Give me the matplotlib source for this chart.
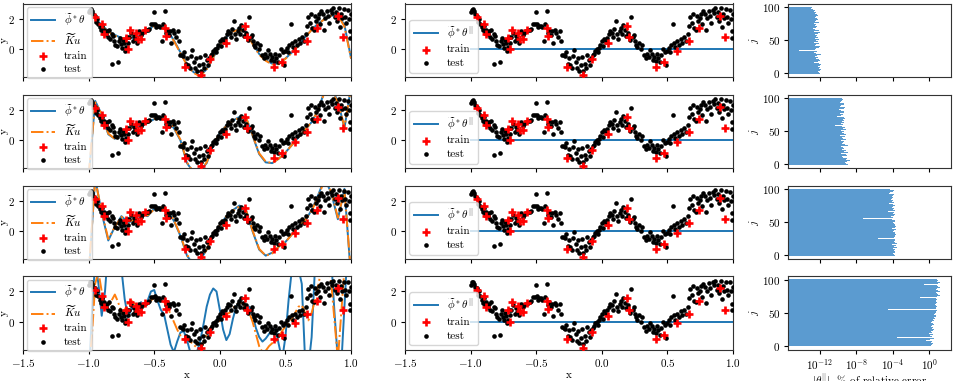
import numpy as np
import matplotlib
matplotlib.use("Agg")
import matplotlib.pyplot as plt
from matplotlib.ticker import NullLocator, FixedLocator

plt.rcParams['font.family'] = ['cmr10', 'DejaVu Serif']
plt.rcParams['mathtext.fontset'] = 'cm'
plt.rcParams['axes.formatter.use_mathtext'] = True
plt.rcParams['font.size'] = 8
plt.rcParams['axes.unicode_minus'] = True

# ---- data ----
train_x = [-0.954, -0.898, -0.883, -0.712, -0.70, -0.687, -0.636, -0.623, -0.600, -0.573,
           -0.420, -0.407, -0.267, -0.140, -0.076, 0.046, 0.191, 0.211, 0.415, 0.471,
           0.573, 0.662, 0.738, 0.903, 0.942]
train_y = [2.1, 1.7, 1.0, 0.75, 0.0, 1.3, 1.05, 0.7, 0.65, 1.25,
           1.4, 0.85, -1.15, -1.7, -0.65, 0.4, 1.55, 0.8, -1.15, -0.85,
           -0.1, 0.55, 1.4, 2.2, 0.8]

test_x = [-0.995, -0.99, -0.98, -0.975, -0.965, -0.955, -0.94, -0.935, -0.93, -0.915,
          -0.905, -0.9, -0.89, -0.88, -0.87, -0.86, -0.85, -0.845, -0.835, -0.825,
          -0.815, -0.82, -0.775,
          -0.81, -0.795, -0.78, -0.77, -0.76, -0.755, -0.745, -0.735, -0.73, -0.72,
          -0.715, -0.705, -0.70,
          -0.69, -0.675, -0.665, -0.655, -0.645, -0.63, -0.615, -0.60, -0.59, -0.575,
          -0.56, -0.55,
          -0.54, -0.525, -0.51, -0.50, -0.495, -0.485, -0.475, -0.465, -0.455, -0.44,
          -0.43, -0.42, -0.41, -0.40, -0.39, -0.38, -0.37, -0.36, -0.35, -0.335,
          -0.32, -0.31,
          -0.30, -0.29, -0.28, -0.27, -0.26, -0.25, -0.24, -0.23, -0.22, -0.21,
          -0.20, -0.19, -0.18, -0.17, -0.16, -0.15, -0.14, -0.13, -0.12, -0.11,
          -0.10, -0.09, -0.08, -0.07, -0.06, -0.05, -0.04, -0.03, -0.02, -0.01,
          0.0, 0.01, 0.02, 0.03, 0.04,
          0.055, 0.065, 0.075, 0.085, 0.095, 0.105, 0.115, 0.125, 0.135, 0.145,
          0.155, 0.165, 0.175, 0.185, 0.20, 0.215, 0.225, 0.235, 0.245, 0.25,
          0.26, 0.27, 0.285, 0.295, 0.31, 0.32, 0.335, 0.345, 0.36, 0.37,
          0.38, 0.39, 0.40, 0.41, 0.42, 0.43, 0.44, 0.455, 0.465, 0.48,
          0.49, 0.50,
          0.51, 0.52, 0.53, 0.54, 0.55, 0.56, 0.575, 0.585, 0.60, 0.61,
          0.625, 0.64, 0.655,
          0.665, 0.675, 0.685, 0.695, 0.705, 0.715, 0.725, 0.735, 0.745, 0.755,
          0.765, 0.775, 0.785, 0.795, 0.805, 0.815, 0.825, 0.835, 0.845, 0.855,
          0.865, 0.875, 0.885, 0.895, 0.905, 0.915, 0.925, 0.935, 0.945, 0.955,
          0.965, 0.975, 0.985, 0.99, 0.995, 0.998]
test_y = [2.45, 2.6, 2.65, 2.5, 2.3, 2.2, 1.8, 2.0, 1.7, 1.45,
          1.25, 1.55, 1.1, 1.3, 1.0, 1.2, 0.8, 1.3, 0.7, 1.0,
          0.9, -0.95, -0.85,
          0.55, 0.3, 0.2, 0.55, 0.75, 0.35, 0.1, 0.6, 0.4, -0.1,
          0.15, 0.8, 0.45,
          0.8, 1.1, 0.55, 0.9, 0.65, 0.45, 1.2, 0.95, 1.1, 1.2,
          1.25, 1.3,
          1.35, 1.65, 1.65, 2.45, 1.7, 1.45, 1.55, 1.55, 1.45, 0.55,
          1.65, 2.5, 1.1, 1.3, 0.95, 1.2, 0.4, 1.25, 1.1, 0.8,
          1.2, 0.55,
          -0.35, -0.4, -0.45, -0.2, -0.95, -0.55, -1.0, -1.2, -0.45, -0.05,
          -0.8, -1.25, -0.6, -1.4, -1.05, -0.5, -1.45, -0.95, -1.25, -0.35,
          -0.7, -1.0, -0.55, -0.4, -0.3, -0.1, 0.0, -0.2, 0.1, 0.3,
          0.55, 0.2, 0.7, 0.5, 0.75,
          1.0, 1.2, 1.1, 0.8, 1.35, 1.85, 1.0, 0.7, 1.2, 1.4,
          1.0, 1.6, 1.25, 0.9, 1.1, 0.6, 2.15, 0.8, 0.95, 0.55,
          0.3, 0.15, 0.45, 0.0, 0.3, -0.35, -0.6, -0.3, -0.5, -0.05,
          -0.3, -0.7, -0.5, -0.75, -0.3, -0.55, -0.85, -0.4, 0.0, -0.2,
          -1.05, -0.1,
          0.1, -0.2, 0.3, 1.7, 0.45, 0.15, 0.55, 0.3, 0.7, 0.45,
          0.8, 0.55, 1.0,
          1.55, 2.15, 1.75, 2.35, 1.4, 1.3, 2.2, 1.9, 2.05, 2.35,
          1.65, 2.5, 2.3, 1.25, 2.05, 2.55, 2.2, 1.75, 2.6, 2.4,
          2.7, 2.1, 2.45, 1.9, 2.7, 1.5, 2.35, 2.05, 2.65, 2.1,
          1.75, 2.6, 2.0, 1.2, 0.75, 2.3]

# fitted curves, left column (coarse grid for rows 1-3, fine grid for row 4)
grid_coarse = [-1.0, -0.95, -0.9, -0.85, -0.8, -0.75, -0.7, -0.65, -0.6, -0.55,
               -0.5, -0.45, -0.4, -0.35, -0.3, -0.25, -0.2, -0.15, -0.1, -0.05,
               0.0, 0.05, 0.1, 0.15, 0.2, 0.25, 0.3, 0.35, 0.4, 0.45,
               0.5, 0.55, 0.6, 0.65, 0.7, 0.75, 0.8, 0.85, 0.9, 0.95, 1.0]
grid_fine = [round(-1.0 + 0.025 * i, 3) for i in range(81)]

phi_row1 = [2.55, 2.05, 1.6, 1.2, 0.95, 0.75, 0.68, 0.78, 0.92, 1.2,
            1.6, 1.5, 1.25, 0.6, -0.2, -1.0, -1.5, -1.75, -1.3, -0.55,
            0.3, 0.8, 1.2, 1.35, 1.15, 0.4, -0.3, -0.7, -0.95, -0.95,
            -0.6, -0.2, 0.25, 0.8, 1.3, 1.7, 2.0, 2.2, 2.3, 1.6, -0.55]
ku_row1 = [2.5, 2.0, 1.55, 1.15, 0.9, 0.72, 0.7, 0.82, 0.95, 1.22,
           1.55, 1.48, 1.2, 0.55, -0.25, -1.05, -1.55, -1.78, -1.3, -0.5,
           0.3, 0.82, 1.18, 1.3, 1.1, 0.35, -0.35, -0.75, -1.0, -0.98,
           -0.62, -0.22, 0.25, 0.78, 1.28, 1.68, 2.0, 2.22, 2.25, 1.5, -0.6]
phi_row2 = [-2.5, 2.6, 1.7, 0.4, 0.1, 0.45, 0.8, 0.9, 0.95, 1.15,
            1.4, 1.5, 1.3, 0.8, 0.0, -1.5, -2.1, -2.0, -1.5, -0.3,
            0.5, 1.0, 1.3, 1.55, 1.5, 0.3, -0.9, -1.45, -1.5, -1.2,
            -0.8, -0.3, 0.2, 0.7, 1.2, 2.0, 3.3, 3.4, 2.6, 0.8, 3.5]
ku_row2 = [-2.3, 2.5, 1.75, 0.45, 0.1, 0.4, 0.75, 0.9, 1.0, 1.15,
           1.4, 1.5, 1.3, 0.85, 0.05, -1.45, -2.1, -2.0, -1.45, -0.3,
           0.5, 0.95, 1.3, 1.5, 1.5, 0.35, -0.85, -1.4, -1.5, -1.2,
           -0.8, -0.3, 0.2, 0.7, 1.2, 2.0, 3.2, 3.3, 2.5, 0.9, 3.4]
phi_row3 = [-3.0, 3.5, 1.2, -0.6, 0.3, 1.0, 0.6, 0.7, 1.2, 1.0,
            1.5, 1.6, 1.3, 0.7, -0.3, -1.6, -2.2, -1.9, -1.2, -0.3,
            0.4, 1.0, 1.4, 1.7, 1.4, 0.0, -1.2, -1.6, -1.4, -1.0,
            -0.7, -0.2, 0.3, 0.7, 1.4, 2.4, 3.5, 2.5, 0.8, 2.8, -3.0]
ku_row3 = [-2.8, 3.4, 1.3, -0.5, 0.3, 0.95, 0.65, 0.75, 1.15, 1.05,
           1.45, 1.6, 1.3, 0.75, -0.25, -1.55, -2.1, -1.9, -1.2, -0.3,
           0.4, 1.0, 1.35, 1.65, 1.4, 0.05, -1.15, -1.6, -1.45, -1.0,
           -0.7, -0.2, 0.3, 0.75, 1.35, 2.3, 3.4, 2.6, 0.9, 2.7, -2.8]
phi_row4 = [-4.0, 0.5, 4.0, 2.5, 0.4, 2.0, 5.0, 6.5, 6.5, 5.5,
            3.5, 1.5, 0.3, 0.8, 1.2, 0.7, 1.3, 1.0, 1.4, 2.0,
            2.1, 1.4, 0.8, 0.5, -0.5, -1.5, -2.0, -1.3, -0.7, -0.6,
            -1.2, -2.0, -2.3, -2.0, -1.3, -0.2, 1.0, 1.8, 2.2, 2.0,
            0.8, -0.5, -1.2, -0.8, 0.2, 1.0, 1.4, 1.2, 0.8, 1.0,
            0.5, -0.4, -1.0, -1.3, -1.1, -0.8, -0.5, -0.5, -1.5, -2.5,
            -1.0, 1.5, 3.5, 4.0, 3.5, 2.5, -2.5, -3.0, -1.0, 3.5,
            6.0, 7.0, 7.0, 6.0, 4.0, 0.5, -2.5, -3.0, 1.0, 5.0, 6.0]
ku_row4 = [-3.0, -1.0, 2.5, 3.3, 2.0, 1.0, 0.9, 1.4, 1.8, 1.3,
           0.6, 0.8, 1.2, 1.4, 1.2, 1.0, 1.1, 1.0, 1.2, 1.4,
           1.6, 1.6, 1.5, 1.3, 1.0, 0.5, 0.0, -0.5, -0.9, -1.2,
           -1.1, -1.3, -1.5, -1.7, -1.8, -1.4, -0.8, -0.4, -0.2, -0.1,
           0.1, 0.3, 0.5, 0.6, 0.9, 1.1, 1.3, 1.2, 0.9, 0.6,
           0.0, -0.8, -1.6, -2.0, -1.9, -1.6, -1.4, -1.3, -1.0, -0.6,
           -0.3, -0.1, 0.2, 0.6, 1.0, 1.1, 0.6, 0.1, 0.6, 1.4,
           2.4, 3.5, 4.0, 3.8, 2.5, 0.0, -2.5, 0.5, 3.5, 4.0, 3.0]

left_grids = [grid_coarse, grid_coarse, grid_coarse, grid_fine]
left_phi = [phi_row1, phi_row2, phi_row3, phi_row4]
left_ku = [ku_row1, ku_row2, ku_row3, ku_row4]

# middle column: projected fit is identically zero
mid_x = [-1.0, 1.0]
mid_fit = [0.0, 0.0]

# right column: log10 of |theta_par| per component j = 0..100
j_idx = list(range(101))
theta_exp_row1 = [-12.0, -12.1, -11.8, -12.2, -12.0, -12.3, -11.9, -12.1, -12.4, -12.0,
                  -12.2, -12.5, -12.0, -11.9, -12.3, -12.1, -12.6, -11.8, -12.2, -12.0,
                  -12.3, -12.1, -12.4, -12.0, -12.2, -12.5, -12.1, -12.3, -11.9, -12.2,
                  -12.4, -12.6, -12.1, -12.3, -13.0, -14.3, -12.5, -12.2, -12.4, -12.1,
                  -12.3, -12.0, -12.5, -12.2, -12.4, -12.1, -12.3, -12.6, -12.2, -12.0,
                  -12.4, -12.1, -12.3, -12.5, -12.2, -12.0, -12.4, -12.3, -12.1, -12.5,
                  -12.2, -12.4, -12.0, -12.6, -12.3, -12.1, -12.5, -12.2, -12.7, -12.4,
                  -13.8, -12.3, -12.5, -12.2, -12.4, -12.6, -12.3, -12.1, -12.5, -12.7,
                  -12.4, -12.2, -12.6, -12.3, -12.5, -12.8, -12.4, -12.2, -12.6, -12.3,
                  -12.5, -12.7, -12.4, -12.6, -13.2, -12.5, -12.8, -12.6, -13.0, -12.7, -12.9]
theta_exp_row2 = [-8.9, -9.1, -8.8, -9.2, -9.0, -9.3, -8.7, -9.1, -9.4, -9.0,
                  -9.5, -9.2, -9.6, -9.0, -9.3, -9.1, -9.7, -9.2, -8.9, -9.3,
                  -9.4, -9.1, -9.6, -9.0, -9.3, -9.5, -9.2, -9.7, -8.9, -9.4,
                  -9.2, -9.6, -9.3, -9.5, -9.0, -9.4, -9.7, -9.3, -9.1, -9.5,
                  -9.3, -9.6, -9.2, -9.4, -9.8, -9.1, -9.5, -9.3, -9.6, -9.2,
                  -9.4, -9.7, -9.3, -9.1, -9.5, -9.8, -9.2, -9.6, -9.4, -10.3,
                  -9.5, -9.2, -9.7, -9.4, -9.0, -9.6, -9.3, -9.8, -9.5, -9.2,
                  -9.6, -9.4, -10.1, -9.3, -9.7, -9.5, -9.2, -9.8, -9.4, -9.6,
                  -9.3, -9.7, -9.5, -9.9, -9.4, -9.6, -9.2, -9.8, -9.5, -9.7,
                  -9.4, -9.6, -9.3, -9.8, -9.5, -9.7, -9.6, -9.9, -9.5, -9.8, -9.6]
theta_exp_row3 = [-3.7, -3.9, -3.6, -4.0, -3.8, -7.1, -3.7, -3.9, -3.6, -3.8,
                  -4.0, -3.7, -3.5, -3.9, -3.8, -3.6, -4.1, -3.7, -3.5, -3.8,
                  -3.6, -3.9, -3.7, -4.0, -3.8, -5.6, -3.6, -3.9, -3.7, -4.0,
                  -3.8, -3.6, -3.9, -3.7, -3.5, -3.8, -4.0, -3.7, -3.9, -3.6,
                  -3.8, -4.1, -3.7, -3.9, -3.6, -3.8, -4.0, -3.7, -3.9, -3.8,
                  -4.0, -3.7, -3.9, -3.8, -4.1, -3.9, -7.3, -4.0, -3.8, -4.2,
                  -3.9, -4.1, -3.8, -4.0, -4.3, -3.9, -4.5, -4.1, -3.8, -4.0,
                  -4.2, -3.9, -4.1, -4.6, -4.0, -3.8, -4.2, -4.0, -4.4, -4.1,
                  -3.9, -4.1, -4.3, -4.0, -4.2, -3.8, -4.1, -4.0, -4.3, -4.1,
                  -4.0, -4.2, -3.9, -4.4, -4.1, -4.3, -4.0, -4.2, -3.9, -4.1, -4.3]
theta_exp_row4 = [0.2, 0.5, 0.3, 0.1, 0.4, 0.2, 0.6, 0.3, -0.3, 0.4,
                  0.1, 0.5, 0.2, -3.5, 0.3, 0.6, 0.1, 0.4, 0.2, 0.0,
                  0.3, 0.7, 0.2, 0.4, -0.2, 0.5, 0.3, 0.1, 0.4, 0.2,
                  0.0, 0.3, 0.5, 0.1, 0.4, 0.2, -0.1, 0.3, 0.5, 0.2,
                  0.4, 0.6, 0.3, 0.5, 0.8, 0.4, 0.7, 0.5, 0.9, 0.6,
                  0.8, 0.5, 0.7, 0.9, 0.6, -4.5, 0.8, 1.0, 0.7, 0.9,
                  1.1, 0.8, 0.6, 1.0, 0.7, 0.9, 1.2, 0.8, 1.0, 0.7,
                  0.9, 1.1, 0.8, -1.0, 1.0, 0.9, 1.2, 0.8, 1.0, 0.9,
                  1.1, 0.8, 1.2, 0.9, 1.0, 0.7, 1.1, 0.9, 1.2, 0.8,
                  1.0, 0.9, 1.1, -0.6, 1.0, 0.8, 1.2, 0.9, 1.1, 1.0, 0.9]
theta_exps = [theta_exp_row1, theta_exp_row2, theta_exp_row3, theta_exp_row4]

x_ticks = [-1.5, -1.0, -0.5, 0.0, 0.5, 1.0]
y_ticks = [0, 2]
j_ticks = [0, 50, 100]
err_ticks = [1e-12, 1e-8, 1e-4, 1e0]

# ---- layout (pixel boxes of the reference, 957x381) ----
W, H = 957, 381
fig = plt.figure(figsize=(W / 100, H / 100), dpi=100)
row_tops = [3.5, 94.5, 185.5, 276.0]
row_h = 73.5
col_boxes = [(23, 328), (405, 328), (788, 163)]


def make_ax(col, row):
    x0, w = col_boxes[col]
    top = row_tops[row]
    ax = fig.add_axes([x0 / W, 1 - (top + row_h) / H, w / W, row_h / H])
    ax.tick_params(length=3, pad=2.5, labelsize=8)
    for sp in ax.spines.values():
        sp.set_color('#333333')
    return ax


def style_xy(ax, bottom):
    ax.set_xlim(-1.5, 1.0)
    ax.set_ylim(-1.82, 3.02)
    ax.set_xticks(x_ticks)
    ax.set_yticks(y_ticks)
    if bottom:
        ax.set_xlabel('x', labelpad=1)
    else:
        ax.set_xticklabels([])


def scatter_data(ax):
    ax.scatter(train_x, train_y, marker='+', s=30, linewidths=1.9, color='red',
               label='train', zorder=4)
    ax.scatter(test_x, test_y, marker='o', s=11, color='black', linewidths=0,
               label='test', zorder=3)


for r in range(4):
    bottom = (r == 3)

    # left: full fit vs kernel fit
    ax = make_ax(0, r)
    ax.plot(left_grids[r], left_phi[r], color='C0', lw=1.4,
            label=r'$\widetilde{\phi}^*\theta$', zorder=2)
    ax.plot(left_grids[r], left_ku[r], color='C1', lw=1.4, ls='-.',
            label=r'$\widetilde{K}u$', zorder=2)
    scatter_data(ax)
    style_xy(ax, bottom)
    ax.set_ylabel('y', labelpad=0)
    ax.legend(loc='upper left', fontsize=8, borderaxespad=0.35,
              handlelength=2.2, labelspacing=0.35, borderpad=0.35)

    # middle: projected fit
    ax = make_ax(1, r)
    ax.plot(mid_x, mid_fit, color='C0', lw=1.4,
            label=r'$\widetilde{\phi}^*\theta^{||}$', zorder=2)
    scatter_data(ax)
    style_xy(ax, bottom)
    ax.legend(loc='lower left', fontsize=8, borderaxespad=0.4,
              handlelength=2.2, labelspacing=0.35, borderpad=0.4)

    # right: coefficient magnitudes
    ax = make_ax(2, r)
    vals = [10.0 ** e for e in theta_exps[r]]
    ax.barh(j_idx, vals, left=1e-20, height=1.0, color='#5b9bd0',
            linewidth=0)
    ax.set_xscale('log')
    ax.set_xlim(10 ** -15.5, 10 ** 2.4)
    ax.xaxis.set_major_locator(FixedLocator(err_ticks))
    ax.xaxis.set_minor_locator(NullLocator())
    ax.set_yticks(j_ticks)
    ax.set_ylabel('$j$', labelpad=1)
    if bottom:
        ax.set_xlabel(r'$|\theta^{||}|$, % of relative error', labelpad=0)
    else:
        ax.set_xticklabels([])

fig.savefig('out.png', dpi=100)
